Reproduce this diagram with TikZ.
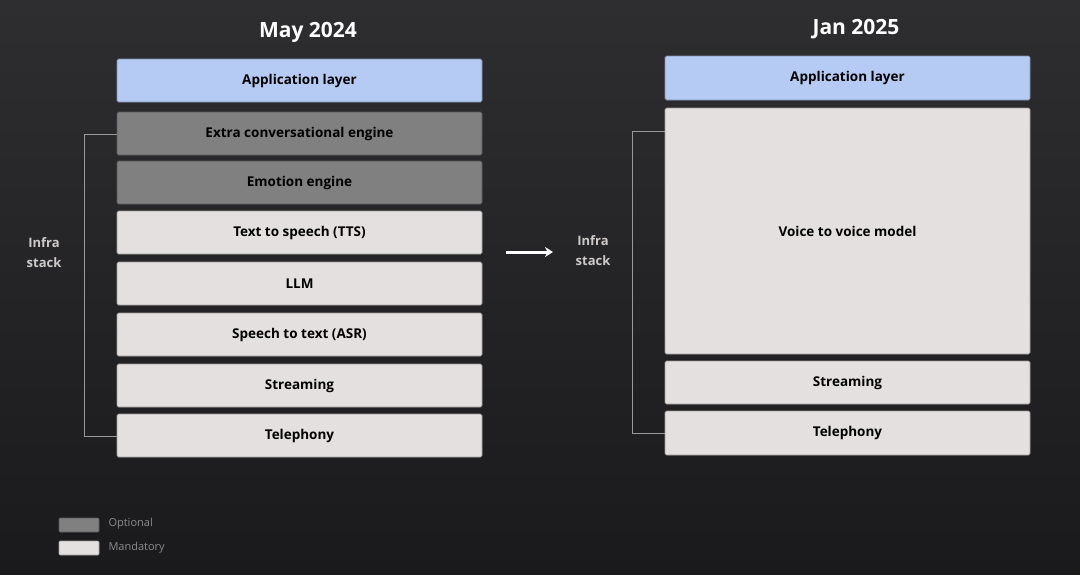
\documentclass[tikz,border=0pt]{standalone}
\usepackage{fontspec}
\setmainfont{Open Sans}
\usetikzlibrary{arrows.meta}
\begin{document}
\begin{tikzpicture}[x=1pt,y=-1pt,
  layer/.style={draw=#1!70!black,line width=0.6pt,rounded corners=1.5pt,font=\bfseries\fontsize{13.5}{15}\selectfont,text=black},
  app/.style={layer=appc,fill=appc},
  opt/.style={layer=optc,fill=optc},
  man/.style={layer=manc,fill=manc},
  title/.style={text=white,font=\bfseries\fontsize{21}{24}\selectfont},
  side/.style={text=manc!90!black,font=\bfseries\fontsize{13}{20}\selectfont,align=center},
  brk/.style={draw=gray!80,line width=0.8pt},
  leg/.style={text=gray!90,font=\fontsize{11}{13}\selectfont,anchor=west}]
\definecolor{appc}{HTML}{B6CBF4}
\definecolor{optc}{HTML}{808080}
\definecolor{manc}{HTML}{E4E0DF}
\shade[top color={rgb,255:red,46;green,46;blue,48},bottom color={rgb,255:red,26;green,26;blue,28}] (0,0) rectangle (1080,574);
\useasboundingbox (0,0) rectangle (1080,574);
\node[title] (t1) at (308,32) {May 2024};
\node[title] (t2) at (856,29) {Jan 2025};
% left
\path[app] (117,59) rectangle (482,102) node[midway] (la) {Application layer};
\path[opt] (117,112) rectangle (482,155) node[midway] (le) {Extra conversational engine};
\path[opt] (117,161) rectangle (482,204) node[midway] (lm) {Emotion engine};
\path[man] (117,211) rectangle (482,254) node[midway] (lt) {Text to speech (TTS)};
\path[man] (117,262) rectangle (482,305) node[midway] (ll) {LLM};
\path[man] (117,313) rectangle (482,356) node[midway] (ls) {Speech to text (ASR)};
\path[man] (117,364) rectangle (482,407) node[midway] (lst) {Streaming};
\path[man] (117,414) rectangle (482,457) node[midway] (ltel) {Telephony};
\node[side] (li) at (44,253) {Infra\\stack};
\coordinate (lb1) at (117,134); \coordinate (lb2) at (117,436);
\draw[brk] (lb1) -- (84,134) -- (84,436) -- (lb2);
% arrow
\coordinate (a1) at (506,252); \coordinate (a2) at (553,252);
\draw[white,line width=3pt,-{Stealth[length=8pt,width=10pt]}] (a1) -- (a2);
% right
\path[app] (665,56) rectangle (1030,100) node[midway] (ra) {Application layer};
\path[man] (665,108) rectangle (1030,354) node[midway] (rv) {Voice to voice model};
\path[man] (665,361) rectangle (1030,404) node[midway] (rs) {Streaming};
\path[man] (665,411) rectangle (1030,455) node[midway] (rt) {Telephony};
\node[side] (ri) at (593,251) {Infra\\stack};
\coordinate (rb1) at (665,131); \coordinate (rb2) at (665,433);
\draw[brk] (rb1) -- (632,131) -- (632,433) -- (rb2);
% legend
\path[opt,rounded corners=1pt] (59,518) rectangle (99,532);
\node[leg] (lo) at (105,524) {Optional};
\path[man,rounded corners=1pt] (59,541) rectangle (99,555);
\node[leg] (lmd) at (105,548) {Mandatory};
\end{tikzpicture}
\end{document}
